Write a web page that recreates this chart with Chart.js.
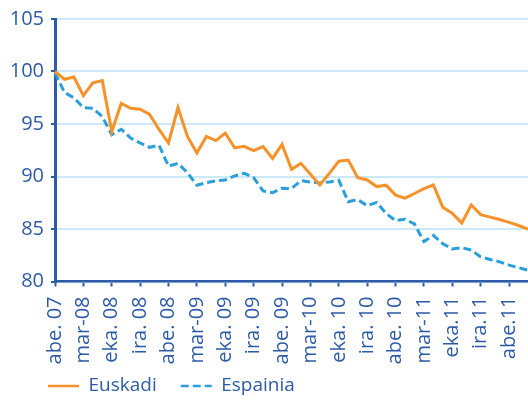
<!DOCTYPE html>
<html><head><meta charset="utf-8">
<script src="https://cdn.jsdelivr.net/npm/chart.js@4"></script>
<style>html,body{margin:0;padding:0;background:#fff;overflow:hidden}</style>
</head><body>
<canvas id="c" width="528" height="400"></canvas>
<script>
const categories = [
  "abe. 07","urt. 08","ots. 08","mar-08","api. 08","mai. 08","eka. 08","uzt. 08","abu. 08","ira. 08","urr. 08","aza. 08",
  "abe. 08","urt. 09","ots. 09","mar-09","api. 09","mai. 09","eka. 09","uzt. 09","abu. 09","ira. 09","urr. 09","aza. 09",
  "abe. 09","urt. 10","ots. 10","mar-10","api. 10","mai. 10","eka. 10","uzt. 10","abu. 10","ira. 10","urr. 10","aza. 10",
  "abe. 10","urt. 11","ots. 11","mar-11","api. 11","mai. 11","eka.11","uzt. 11","abu. 11","ira.11","urr. 11","aza. 11",
  "abe.11","urt. 12","ots. 12"
];
const euskadi = [100.0,99.26,99.48,97.69,98.92,99.13,94.29,96.96,96.49,96.40,95.92,94.48,
  93.19,96.56,93.82,92.25,93.82,93.42,94.13,92.72,92.88,92.47,92.85,91.72,
  93.06,90.68,91.25,90.21,89.20,90.30,91.46,91.56,89.89,89.67,89.04,89.17,
  88.23,87.94,88.38,88.85,89.20,87.06,86.49,85.58,87.28,86.37,86.13,85.90,
  85.63,85.33,85.00];
const espainia = [99.9,98.0,97.5,96.56,96.5,95.7,93.98,94.5,93.66,93.19,92.78,92.97,
  90.99,91.25,90.36,89.17,89.42,89.58,89.67,90.05,90.30,89.89,88.63,88.45,
  88.89,88.85,89.60,89.48,89.38,89.48,89.64,87.60,87.80,87.22,87.53,86.48,
  85.80,85.93,85.48,83.80,84.39,83.60,83.10,83.22,83.00,82.34,82.09,81.87,
  81.56,81.32,81.08];
const yTicks = [80,85,90,95,100,105];

const BLUE = '#2e5ba7';
const GRID = '#cbe9f8';
const ORANGE = '#f7922a';
const LBLUE = '#2a9fdb';
const FONT = "'Open Sans', sans-serif";
const LEGEND_H = 30;
const LEG_PAD = 24;
const LEG_FONT = 19;
const LEG_BOX = 31;

const legendPos = {
  id: 'legendPos',
  afterLayout(chart) {
    const lg = chart.legend;
    lg.left = 48 - LEG_PAD;
    lg.top = 386 - LEG_PAD - LEG_FONT / 2;
  },
  afterDraw(chart) {
    const lg = chart.legend;
    const ctx = chart.ctx;
    let x = lg.left + LEG_PAD;
    const y = lg.top + LEG_PAD + LEG_FONT / 2;
    lg.legendItems.forEach((item, i) => {
      const ds = chart.data.datasets[item.datasetIndex];
      const hb = lg.legendHitBoxes[i];
      ctx.save();
      ctx.strokeStyle = ds.borderColor;
      ctx.lineWidth = 2.5;
      ctx.setLineDash(ds.borderDash || []);
      ctx.beginPath();
      ctx.moveTo(x, y);
      ctx.lineTo(x + LEG_BOX, y);
      ctx.stroke();
      ctx.restore();
      x += hb.width + LEG_PAD;
    });
  }
};

new Chart(document.getElementById('c'), {
  type: 'line',
  data: {
    labels: categories,
    datasets: [
      { label: 'Euskadi', data: euskadi, borderColor: ORANGE, backgroundColor: ORANGE, borderWidth: 3, pointRadius: 0, tension: 0, fill: false },
      { label: 'Espainia', data: espainia, borderColor: LBLUE, backgroundColor: LBLUE, borderWidth: 3, borderDash: [8, 4], pointRadius: 0, tension: 0, fill: false }
    ]
  },
  options: {
    responsive: false,
    animation: false,
    layout: { padding: { top: 6, right: 0, left: 0, bottom: 0 } },
    plugins: {
      legend: {
        position: 'bottom', align: 'start', maxHeight: LEGEND_H,
        labels: {
          usePointStyle: true, pointStyle: 'line', pointStyleWidth: LEG_BOX, color: BLUE,
          font: { family: FONT, size: LEG_FONT }, padding: LEG_PAD,
          generateLabels: (chart) => Chart.defaults.plugins.legend.labels.generateLabels(chart).map(it => Object.assign(it, { lineWidth: 0, strokeStyle: 'rgba(0,0,0,0)' }))
        }
      },
      tooltip: { enabled: false }
    },
    scales: {
      x: {
        grid: { drawOnChartArea: false, drawTicks: true, tickLength: 5, tickColor: BLUE, tickWidth: 2 },
        border: { color: BLUE, width: 2.5 },
        ticks: { autoSkip: false, maxRotation: 90, minRotation: 90, padding: 10, color: BLUE, font: { family: FONT, size: 20 },
          callback: (v, i) => (i % 3 === 0 ? categories[i] : null) },
        afterFit: s => { s.height = 400 - 281.5 - LEGEND_H; s.paddingLeft = 0; s.paddingRight = 0; }
      },
      y: {
        min: 80, max: 105,
        afterBuildTicks: s => { s.ticks = yTicks.map(v => ({ value: v })); },
        grid: { color: GRID, lineWidth: 2, drawTicks: true, tickLength: 4, tickColor: BLUE, tickWidth: 2 },
        border: { color: BLUE, width: 3 },
        ticks: { color: BLUE, font: { family: FONT, size: 20 }, padding: 7 },
        afterFit: s => { s.width = 55; }
      }
    }
  },
  plugins: [legendPos]
});
</script>
</body></html>
